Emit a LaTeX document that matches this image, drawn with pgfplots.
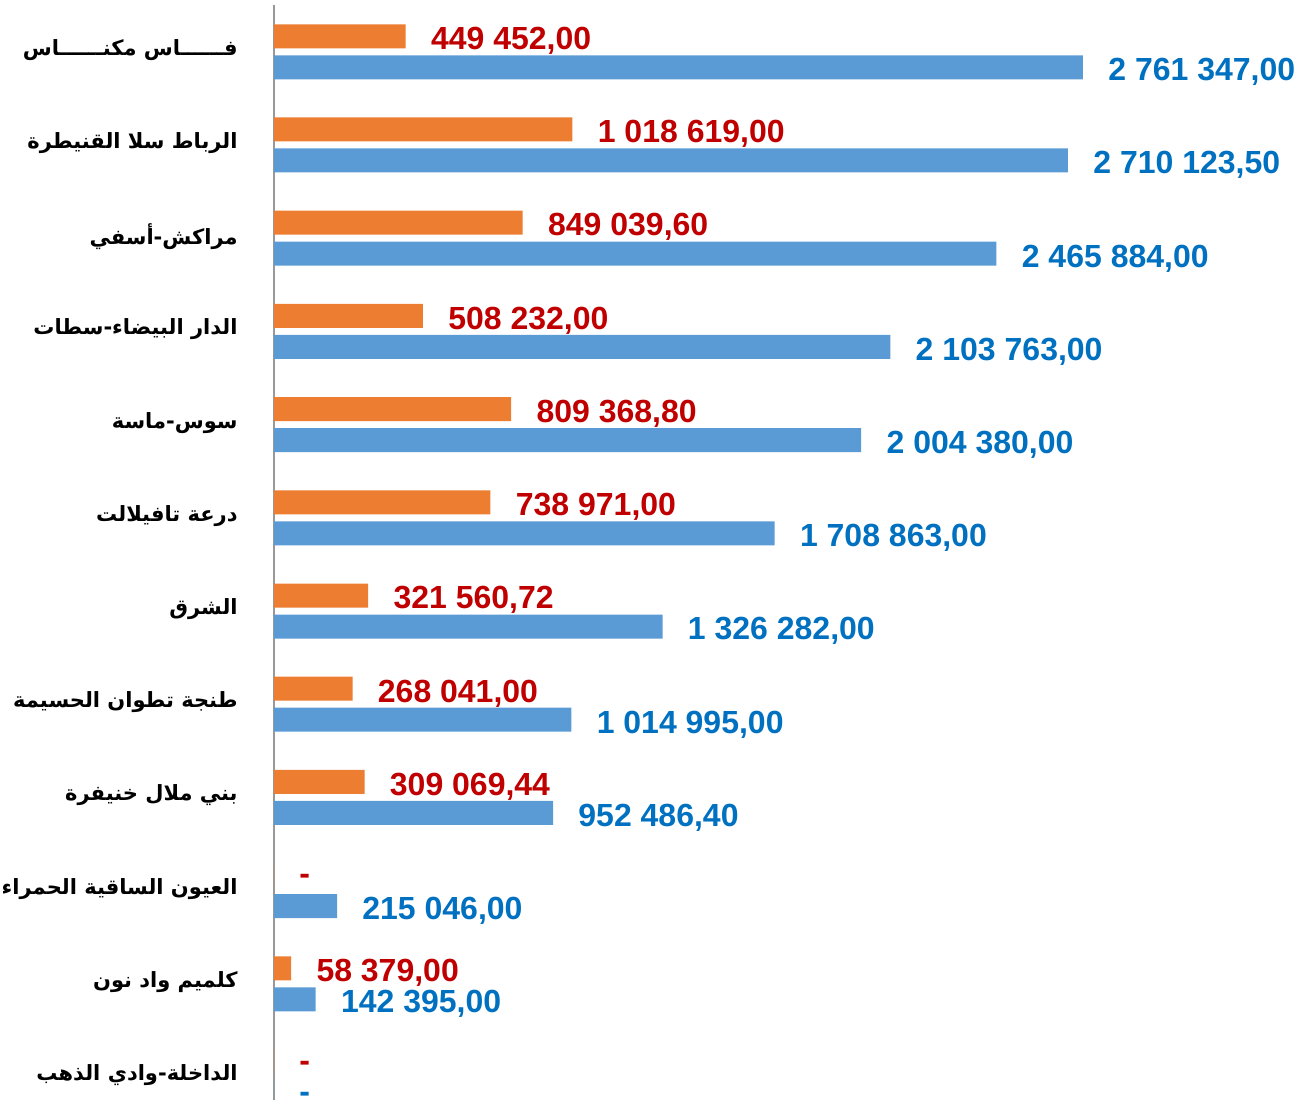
\documentclass[border=0pt]{standalone}
\usepackage{fontspec}
\setmainfont{Liberation Sans}
\newfontfamily\arabicfont[Script=Arabic]{DejaVu Sans}
\TeXXeTstate=1
\usepackage{pgfplots}
\pgfplotsset{compat=1.18}
\definecolor{barorange}{HTML}{ED7D31}
\definecolor{barblue}{HTML}{5B9BD5}
\definecolor{lblred}{HTML}{C00000}
\definecolor{lblblue}{HTML}{0070C0}

\begin{document}
\begin{tikzpicture}
\useasboundingbox (0,0) rectangle (654pt,550.5pt);
\begin{axis}[
    at={(137pt,0.3pt)}, anchor=south west,
    scale only axis, width=512.7pt, height=547.6pt,
    xbar, bar width=12pt,
    xmin=0, xmax=3500000,
    ymin=-0.25, ymax=11.5,
    axis x line=none, axis y line*=left,
    y axis line style={color=black!40, line width=1pt},
    xtick=\empty,
    ytick={0,...,11}, major tick length=0pt,
    yticklabels={
      \beginR الداخلة-وادي الذهب\endR,
      \beginR كلميم واد نون\endR,
      \beginR العيون الساقية الحمراء\endR,
      \beginR بني ملال خنيفرة\endR,
      \beginR طنجة تطوان الحسيمة\endR,
      \beginR الشرق\endR,
      \beginR درعة تافيلالت\endR,
      \beginR سوس-ماسة\endR,
      \beginR الدار البيضاء-سطات\endR,
      \beginR مراكش-أسفي\endR,
      \beginR الرباط سلا القنيطرة\endR,
      \beginR فــــــاس مكنــــــاس\endR},
    yticklabel style={font=\arabicfont\bfseries\fontsize{10.5}{13}\selectfont,
      anchor=east, inner sep=0pt, xshift=-18pt, yshift=1pt},
    clip=false,
    nodes near coords, point meta=explicit symbolic,
    every node near coord/.append style={anchor=west, inner sep=0pt, xshift=12.5pt,
      yshift=-2.3pt, font=\bfseries\fontsize{16}{19}\selectfont},
]
% orange series
\addplot[fill=barorange, draw=none, bar shift=7.75pt,
  every node near coord/.append style={text=lblred}] coordinates {
  (449452,11) [449 452,00]
  (1018619,10) [1 018 619,00]
  (849039.6,9) [849 039,60]
  (508232,8) [508 232,00]
  (809368.8,7) [809 368,80]
  (738971,6) [738 971,00]
  (321560.72,5) [321 560,72]
  (268041,4) [268 041,00]
  (309069.44,3) [309 069,44]
  (0,2) [-]
  (58379,1) [58 379,00]
  (0,0) [-]
};
% blue series
\addplot[fill=barblue, draw=none, bar shift=-7.75pt,
  every node near coord/.append style={text=lblblue}] coordinates {
  (2761347,11) [2 761 347,00]
  (2710123.5,10) [2 710 123,50]
  (2465884,9) [2 465 884,00]
  (2103763,8) [2 103 763,00]
  (2004380,7) [2 004 380,00]
  (1708863,6) [1 708 863,00]
  (1326282,5) [1 326 282,00]
  (1014995,4) [1 014 995,00]
  (952486.4,3) [952 486,40]
  (215046,2) [215 046,00]
  (142395,1) [142 395,00]
  (0,0) [-]
};
\end{axis}
\end{tikzpicture}
\end{document}
